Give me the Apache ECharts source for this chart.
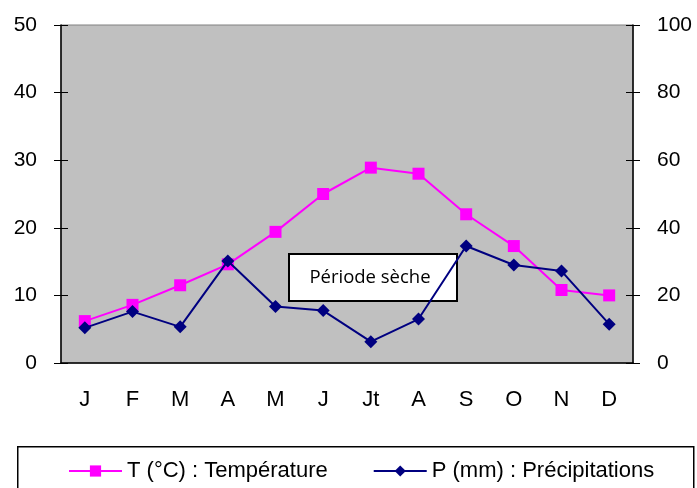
<!DOCTYPE html>
<html><head><meta charset="utf-8">
<script src="https://cdn.jsdelivr.net/npm/echarts@6/dist/echarts.min.js"></script>
<style>html,body{margin:0;padding:0;background:#fff}#c{width:697px;height:488px}</style>
</head><body><div id="c"></div>
<script>
const months = ['J','F','M','A','M','J','Jt','A','S','O','N','D'];
const temperature = [6.2, 8.6, 11.5, 14.6, 19.4, 25.0, 28.9, 28.0, 22.0, 17.3, 10.8, 10.0];
const precipitation = [10.4, 15.2, 10.7, 30.2, 16.7, 15.5, 6.3, 13.0, 34.6, 29.0, 27.2, 11.5];
const tempName = 'T (°C) : Température';
const precName = 'P (mm) : Précipitations';
const noteText = 'Période sèche';

const chart = echarts.init(document.getElementById('c'));
const font = 'Liberation Sans, Arial, sans-serif';
chart.setOption({
  animation: false,
  backgroundColor: '#fff',
  grid: {left: 61, right: 64, top: 25, bottom: 125, show: true, backgroundColor: '#C0C0C0', borderColor: '#808080', borderWidth: 1},
  xAxis: {
    type: 'category', data: months, boundaryGap: true,
    axisLine: {lineStyle: {color: '#000', width: 1.5}},
    axisTick: {length: 7, lineStyle: {color: '#000'}},
    axisLabel: {color: '#000', fontSize: 22, fontFamily: font, margin: 26},
    splitLine: {show: false}
  },
  yAxis: [
    {type: 'value', min: 0, max: 50, interval: 10, position: 'left',
     axisLine: {show: true, lineStyle: {color: '#000', width: 1.5}},
     axisTick: {show: true, length: 7, lineStyle: {color: '#000'}},
     axisLabel: {color: '#000', fontSize: 21, fontFamily: font, margin: 24},
     splitLine: {show: false}},
    {type: 'value', min: 0, max: 100, interval: 20, position: 'right',
     axisLine: {show: true, lineStyle: {color: '#000', width: 1.5}},
     axisTick: {show: true, length: 7, lineStyle: {color: '#000'}},
     axisLabel: {color: '#000', fontSize: 21, fontFamily: font, margin: 24},
     splitLine: {show: false}},
    {type: 'value', min: 0, max: 50, interval: 10, position: 'left',
     axisLine: {show: false}, axisTick: {show: true, inside: true, length: 7, lineStyle: {color: '#000'}},
     axisLabel: {show: false}, splitLine: {show: false}},
    {type: 'value', min: 0, max: 100, interval: 20, position: 'right',
     axisLine: {show: false}, axisTick: {show: true, inside: true, length: 7, lineStyle: {color: '#000'}},
     axisLabel: {show: false}, splitLine: {show: false}}
  ],
  legend: {
    left: 63, top: 455, itemGap: 45, itemWidth: 53, itemHeight: 14, padding: 5,
    textStyle: {color: '#000', fontSize: 22, fontFamily: font},
    data: [tempName, precName]
  },
  series: [
    {name: tempName, type: 'line', yAxisIndex: 0, data: temperature,
     symbol: 'rect', symbolSize: 12, itemStyle: {color: '#FF00FF'},
     lineStyle: {color: '#FF00FF', width: 2}, z: 2},
    {name: precName, type: 'line', yAxisIndex: 1, data: precipitation,
     symbol: 'diamond', symbolSize: 13, itemStyle: {color: '#000080'},
     lineStyle: {color: '#000080', width: 2}, z: 3}
  ],
  graphic: [
    {type: 'rect', left: 17, top: 446, shape: {width: 676, height: 60},
     style: {fill: '#fff', stroke: '#000', lineWidth: 1.5}, z: -1},
    {type: 'group', left: 288, top: 253, z: 100, children: [
      {type: 'rect', shape: {x: 0, y: 0, width: 168, height: 47},
       style: {fill: '#fff', stroke: '#000', lineWidth: 2}},
      {type: 'text', x: 81, y: 24, style: {text: noteText, fill: '#000', font: '18.5px "Open Sans", sans-serif', align: 'center', verticalAlign: 'middle'}}
    ]}
  ]
});
</script></body></html>
